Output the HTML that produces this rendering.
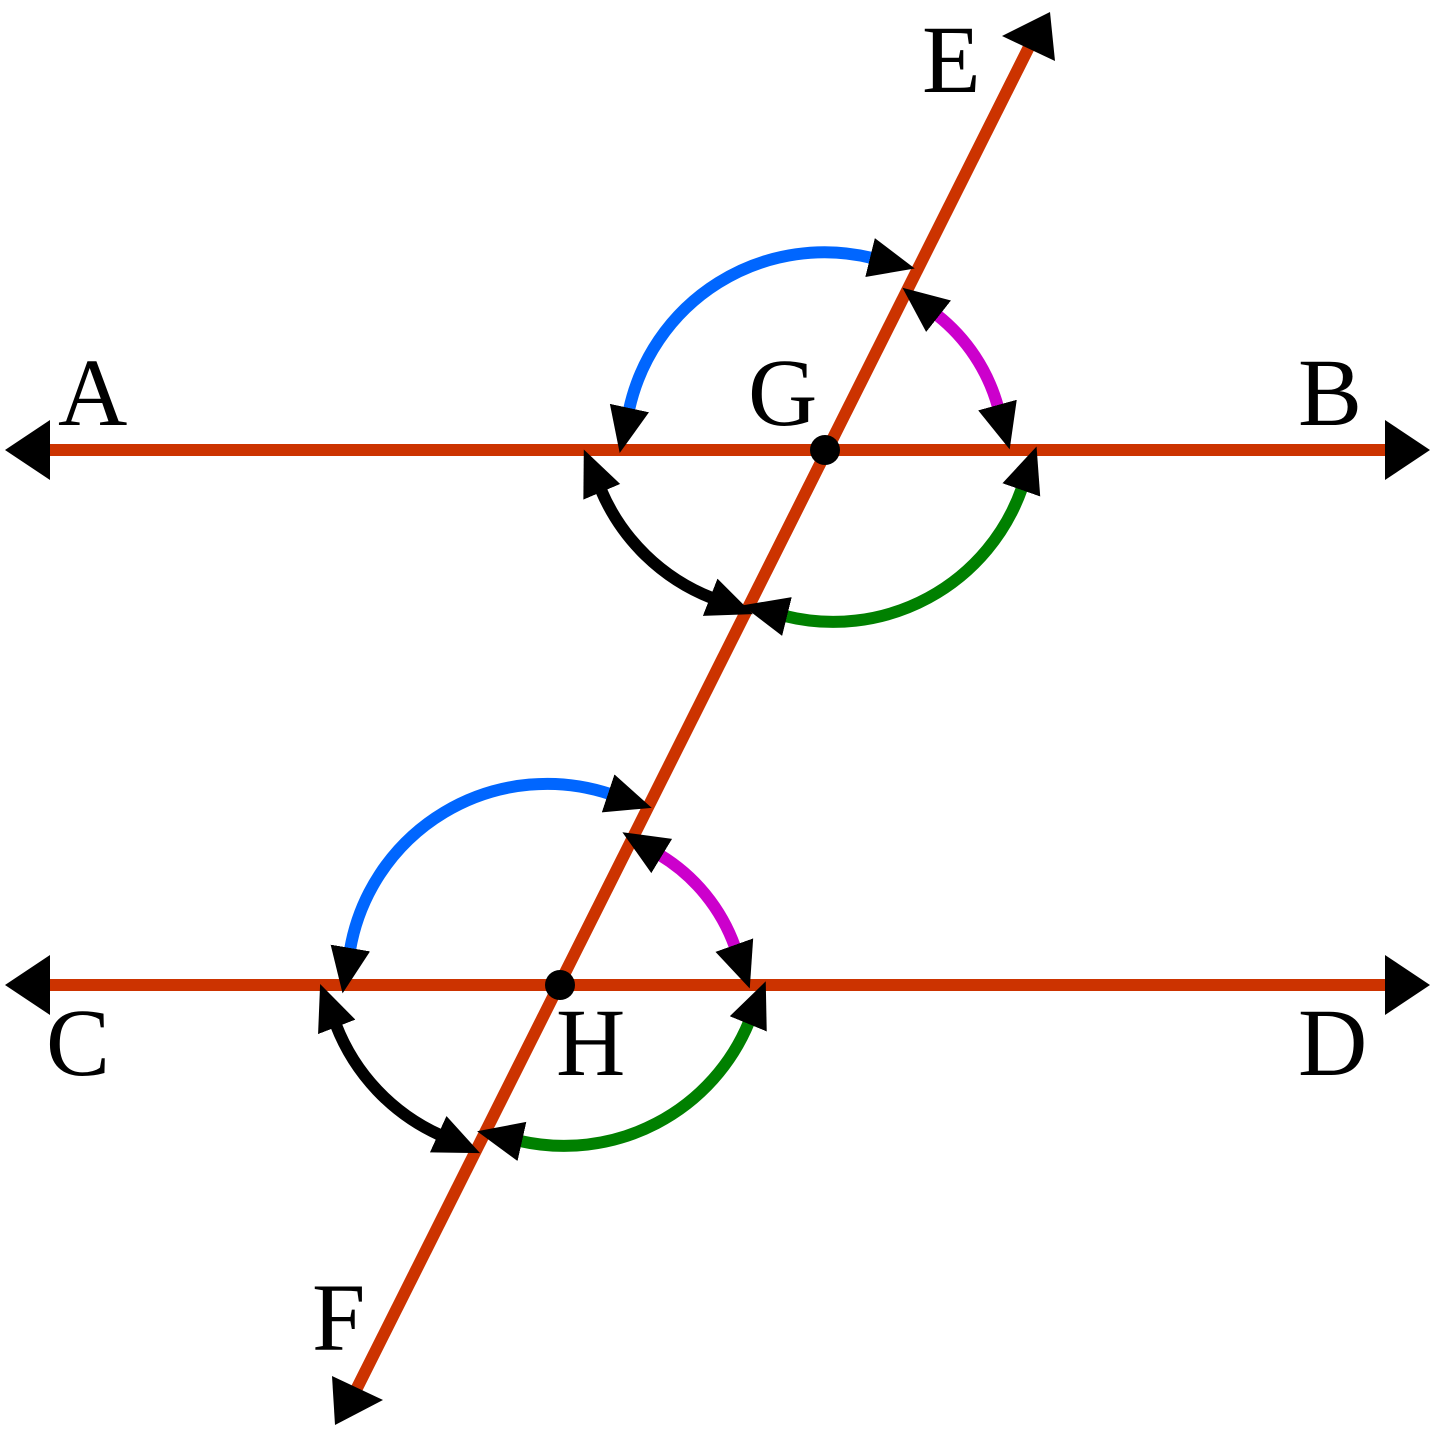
<!DOCTYPE html>
<html><head><meta charset="utf-8"><style>
html,body{margin:0;padding:0;background:#fff;}
svg{display:block;}
text{font-family:"Liberation Serif",serif;font-size:96px;fill:#000;}
</style></head><body>
<svg width="1435" height="1435" viewBox="0 0 1435 1435" xmlns="http://www.w3.org/2000/svg">
<defs>
<marker id="ar" markerUnits="userSpaceOnUse" markerWidth="50" markerHeight="44" refX="2" refY="20" orient="auto-start-reverse" viewBox="0 0 50 40">
<path d="M0,0 L46,20 L0,40 Z" fill="#000"/>
</marker>
</defs>
<g stroke="#cc3300" stroke-width="12" fill="none">
<line x1="40" y1="450" x2="1395" y2="450"/>
<line x1="40" y1="985" x2="1395" y2="985"/>
<line x1="355" y1="1392" x2="1030" y2="45"/>
</g>
<g fill="#000">
<polygon points="5,450 50,420 50,480"/>
<polygon points="1430,450 1385,420 1385,480"/>
<polygon points="5,985 50,955 50,1015"/>
<polygon points="1430,985 1385,955 1385,1015"/>
<polygon points="1050,12 1055,61 1002,36"/>
<polygon points="335,1425 383,1400 332,1376"/>
<circle cx="825" cy="450" r="15"/>
<circle cx="560" cy="985" r="15"/>
</g>
<g stroke-width="12" fill="none" marker-start="url(#ar)" marker-end="url(#ar)">
<path d="M629,410 A200,200 0 0 1 872,258" stroke="#0066ff"/>
<path d="M937,315 A177,177 0 0 1 998,407" stroke="#cc00cc"/>
<path d="M1022,488 A200,200 0 0 1 785,616" stroke="#008000"/>
<path d="M601,490 A200,200 0 0 0 712,598" stroke="#000"/>
<path d="M350,950 A200,200 0 0 1 610,794" stroke="#0066ff"/>
<path d="M660,855 A177,177 0 0 1 735,947" stroke="#cc00cc"/>
<path d="M749,1022 A200,200 0 0 1 520,1141" stroke="#008000"/>
<path d="M336,1025 A200,200 0 0 0 440,1135" stroke="#000"/>
</g>
<text x="58" y="425">A</text>
<text x="748" y="425">G</text>
<text x="1298" y="425">B</text>
<text x="922" y="92">E</text>
<text x="46" y="1075">C</text>
<text x="556" y="1075">H</text>
<text x="1298" y="1075">D</text>
<text x="312" y="1350">F</text>
</svg>
</body></html>
